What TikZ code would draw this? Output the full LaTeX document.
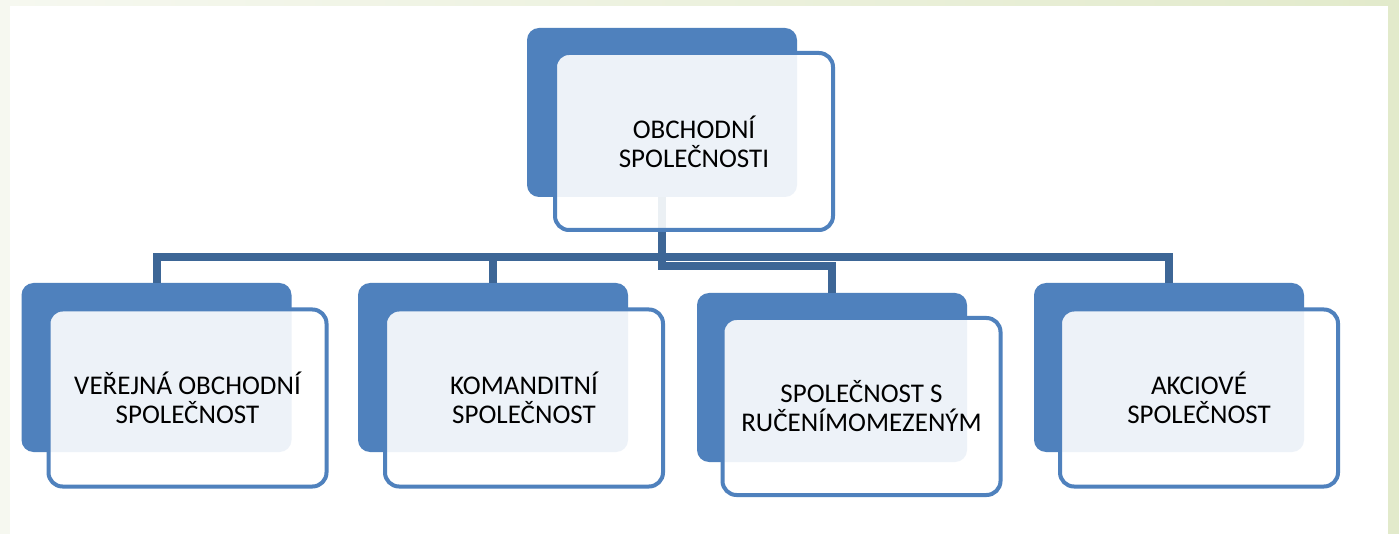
\documentclass[tikz,border=0pt]{standalone}
\usepackage{fontspec}
\setmainfont{Carlito}
\usepackage{tikz}
\usetikzlibrary{positioning, calc}

\definecolor{backblue}{HTML}{4F81BD}
\definecolor{linkblue}{HTML}{3D6696}
\definecolor{bgleft}{HTML}{F6F8F0}
\definecolor{bgright}{HTML}{E2EACB}

\begin{document}
\begin{tikzpicture}[
    x=1pt, y=-1pt,
    backbox/.style={fill=backblue, rounded corners=12pt, minimum width=270pt, minimum height=169pt, inner sep=0pt},
    frontbox/.style={draw=backblue, line width=4pt, fill=white, fill opacity=0.9, text opacity=1, rounded corners=14pt,
        minimum width=278pt, minimum height=177pt, align=center, font=\fontsize{27}{29}\selectfont},
    link/.style={draw=linkblue, line width=8pt}
]
\useasboundingbox (0,0) rectangle (1399,534);

% background frame
\shade[left color=bgleft, right color=bgright] (0,0) rectangle (1399,534);
\fill[white] (10,6) rectangle (1388,534);

% back boxes
\node[backbox] (top_back) at (662,112.5) {};
\node[backbox] (vos_back) at (156.5,367.5) {};
\node[backbox] (ks_back) at (493,367.5) {};
\node[backbox] (sro_back) at (832,377.5) {};
\node[backbox] (as_back) at (1169,367.5) {};

% connectors
\draw[link] (top_back.south) -- ++(0,60) -| (vos_back.north);
\draw[link] (top_back.south) -- ++(0,60) -| (ks_back.north);
\draw[link] (top_back.south) -- ++(0,60) -| (as_back.north);
\draw[link] (top_back.south) -- ++(0,69) -| (sro_back.north);

% front boxes
\node[frontbox] (top_front) at ([xshift=32pt,yshift=-29pt]top_back.center) {OBCHODNÍ\\SPOLEČNOSTI};
\node[frontbox] (vos_front) at ([xshift=31pt,yshift=-30.5pt]vos_back.center) {VEŘEJNÁ OBCHODNÍ\\SPOLEČNOST};
\node[frontbox] (ks_front) at ([xshift=31pt,yshift=-30.5pt]ks_back.center) {KOMANDITNÍ\\SPOLEČNOST};
\node[frontbox] (sro_front) at ([xshift=29.5pt,yshift=-29pt]sro_back.center) {SPOLEČNOST S\\RUČENÍMOMEZENÝM};
\node[frontbox] (as_front) at ([xshift=30pt,yshift=-30.5pt]as_back.center) {AKCIOVÉ\\SPOLEČNOST};

\end{tikzpicture}
\end{document}
